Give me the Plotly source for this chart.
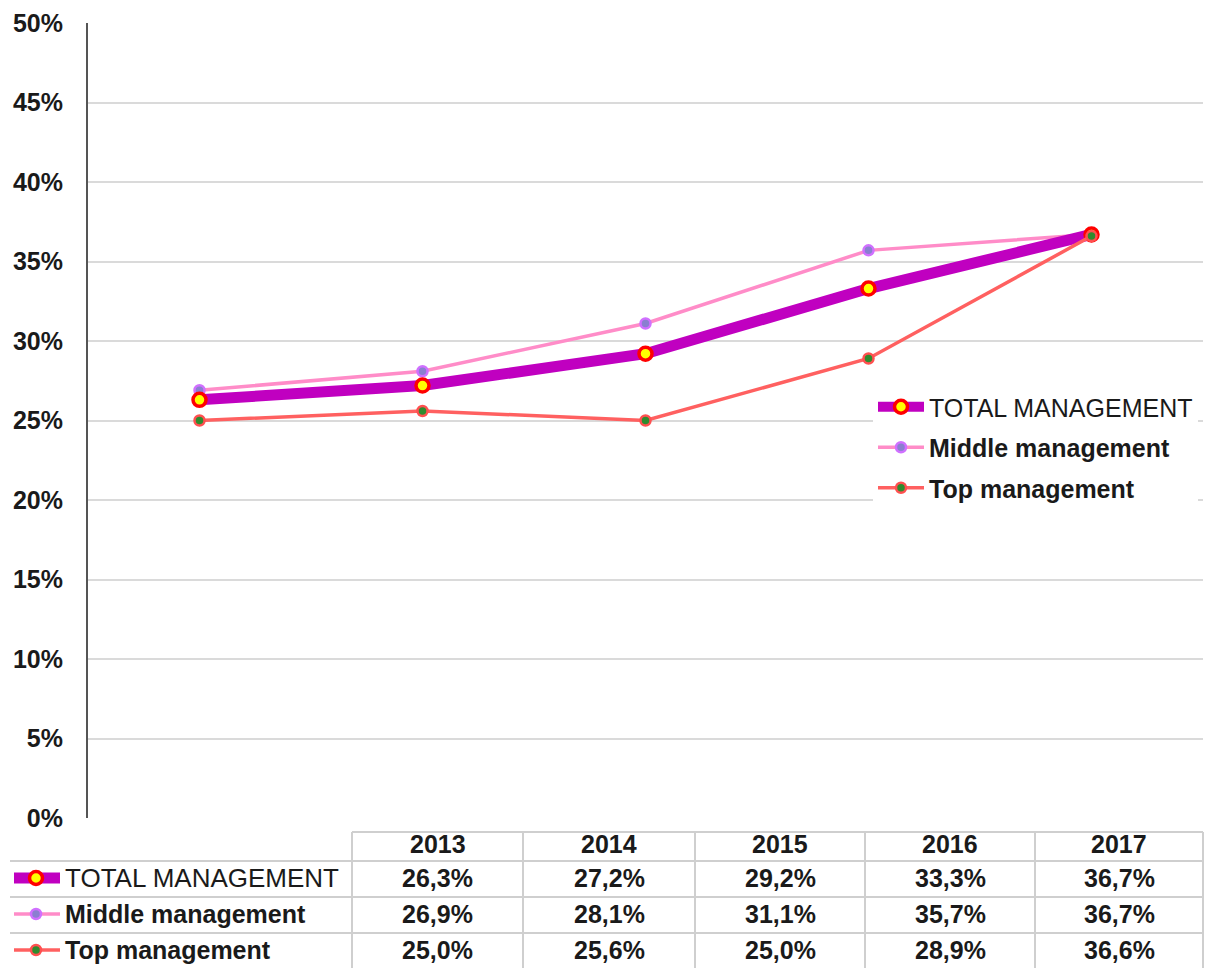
import plotly.graph_objects as go

# ---------------- data ----------------
years = ["2013", "2014", "2015", "2016", "2017"]
total_mgmt = [26.3, 27.2, 29.2, 33.3, 36.7]
middle_mgmt = [26.9, 28.1, 31.1, 35.7, 36.7]
top_mgmt = [25.0, 25.6, 25.0, 28.9, 36.6]
series_names = ["TOTAL MANAGEMENT", "Middle management", "Top management"]
y_tick_values = [0, 5, 10, 15, 20, 25, 30, 35, 40, 45, 50]

# ---------------- styles ----------------
FONT = "Liberation Sans, Arial, sans-serif"
TXT = "#1a1a1a"
FS = 25
styles = {
    "TOTAL MANAGEMENT": dict(line=dict(color="#C000C0", width=11),
                             marker=dict(size=13, color="#FFFF00", line=dict(color="#FF0000", width=3.5))),
    "Middle management": dict(line=dict(color="#FF8CC8", width=3.5),
                              marker=dict(size=10, color="#8A7FD0", line=dict(color="#D070FF", width=2.5))),
    "Top management": dict(line=dict(color="#FF6060", width=3.5),
                           marker=dict(size=10, color="#2E8B2E", line=dict(color="#FF5050", width=2.5))),
}
series_values = {"TOTAL MANAGEMENT": total_mgmt, "Middle management": middle_mgmt, "Top management": top_mgmt}
legend_labels = {"TOTAL MANAGEMENT": "TOTAL MANAGEMENT",
                 "Middle management": "<b>Middle management</b>",
                 "Top management": "<b>Top management</b>"}

W, H = 1206, 968
ML, MR, MT, MB = 88, 3, 23, 150
PW, PH = W - ML - MR, H - MT - MB


def px(x):
    return (x - ML) / PW


def py(y):
    return (H - MB - y) / PH


fig = go.Figure()
draw_order = ["Middle management", "TOTAL MANAGEMENT", "Top management"]
for name in draw_order:
    st = styles[name]
    fig.add_trace(go.Scatter(
        x=years, y=series_values[name], mode="lines+markers",
        name=legend_labels[name], line=st["line"], marker=st["marker"],
        legendrank=series_names.index(name) + 1, legendgroup=name,
    ))

shapes = []
annotations = []

# ---------------- data table ----------------
col_edges = [352, 523, 695, 865, 1035, 1203]
row_edges = [832, 861, 897, 933, 969]
grid_col = "#CFCFCF"
shapes.append(dict(type="line", xref="paper", yref="paper", x0=px(col_edges[0]), x1=px(col_edges[-1]),
                   y0=py(row_edges[0]), y1=py(row_edges[0]), line=dict(color=grid_col, width=2)))
for r in row_edges[1:]:
    shapes.append(dict(type="line", xref="paper", yref="paper", x0=px(10), x1=px(col_edges[-1]),
                       y0=py(r), y1=py(r), line=dict(color=grid_col, width=2)))
for c in col_edges:
    shapes.append(dict(type="line", xref="paper", yref="paper", x0=px(c), x1=px(c),
                       y0=py(row_edges[0]), y1=py(row_edges[-1]), line=dict(color=grid_col, width=2)))

for j, yr in enumerate(years):
    cx = (col_edges[j] + col_edges[j + 1]) / 2
    annotations.append(dict(x=px(cx), y=py(844), xref="paper", yref="paper",
                            text="<b>%s</b>" % yr, showarrow=False, xanchor="center", yanchor="middle",
                            font=dict(family=FONT, size=FS, color=TXT)))

for i, name in enumerate(series_names):
    cy = (row_edges[i + 1] + row_edges[i + 2]) / 2 - 1
    st = styles[name]
    label = name if name == "TOTAL MANAGEMENT" else "<b>%s</b>" % name
    annotations.append(dict(x=px(63), y=py(cy), xref="paper", yref="paper", text=label, showarrow=False,
                            xanchor="left", yanchor="middle",
                            font=dict(family=FONT, size=FS + (1 if name == "TOTAL MANAGEMENT" else 0), color=TXT)))
    # glyph
    shapes.append(dict(type="line", xref="paper", yref="paper", x0=px(14), x1=px(60), y0=py(cy), y1=py(cy),
                       line=dict(color=st["line"]["color"], width=st["line"]["width"])))
    r = st["marker"]["size"] / 2
    shapes.append(dict(type="circle", xref="paper", yref="paper", x0=px(36 - r), x1=px(36 + r),
                       y0=py(cy + r), y1=py(cy - r), fillcolor=st["marker"]["color"],
                       line=dict(color=st["marker"]["line"]["color"], width=st["marker"]["line"]["width"])))
    for j, v in enumerate(series_values[name]):
        cx = (col_edges[j] + col_edges[j + 1]) / 2
        annotations.append(dict(x=px(cx), y=py(cy), xref="paper", yref="paper",
                                text="<b>%s%%</b>" % ("%.1f" % v).replace(".", ","), showarrow=False,
                                xanchor="center", yanchor="middle", font=dict(family=FONT, size=FS, color=TXT)))

fig.update_layout(
    width=W, height=H, template="none",
    margin=dict(l=ML, r=MR, t=MT, b=MB, pad=0),
    paper_bgcolor="white", plot_bgcolor="white",
    font=dict(family=FONT, size=FS, color=TXT),
    showlegend=True,
    legend=dict(x=px(873), y=py(384), xanchor="left", yanchor="top", bgcolor="white",
                borderwidth=0, tracegroupgap=5, itemwidth=46,
                font=dict(family=FONT, size=FS, color=TXT)),
    shapes=shapes, annotations=annotations,
    xaxis=dict(type="category", range=[-0.5, 4.5], showgrid=False, showline=False, zeroline=False,
               showticklabels=False, ticks=""),
    yaxis=dict(range=[0, 50], tickvals=y_tick_values, ticktext=["<b>%d%%</b>" % v for v in y_tick_values],
               showgrid=True, gridcolor="#DADADA", gridwidth=2, zeroline=False, showline=True,
               linecolor="#555555", linewidth=2, ticks="", ticklabelstandoff=18,
               tickfont=dict(family=FONT, size=FS, color=TXT)),
)

fig.write_html("out.html", config={"displayModeBar": False},
               post_script="document.body.style.margin='0';")
